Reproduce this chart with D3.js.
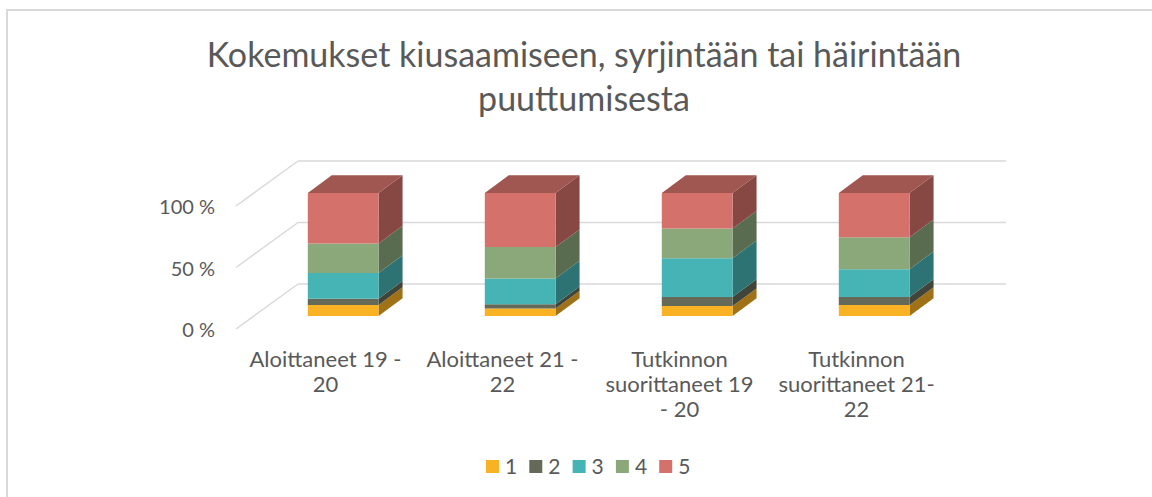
<!DOCTYPE html>
<html>
<head>
<meta charset="utf-8">
<script src="https://cdn.jsdelivr.net/npm/d3@7"></script>
<style>
	body { margin: 0; background: #fff; }
	text { font-family: 'Lato', 'Open Sans', sans-serif; fill: #595959; }
</style>
</head>
<body>
<div id="chart-container"></div>
<script>
// Data (percent of answers per group)
const categories = ['Aloittaneet 19 - 20', 'Aloittaneet 21 - 22', 'Tutkinnon suorittaneet 19 - 20', 'Tutkinnon suorittaneet 21-22'];
const categoryLines = [['Aloittaneet 19 -', '20'], ['Aloittaneet 21 -', '22'], ['Tutkinnon', 'suorittaneet 19', '- 20'], ['Tutkinnon', 'suorittaneet 21-', '22']];
const seriesNames = ['1', '2', '3', '4', '5'];
const values1 = [9, 6, 8, 9];
const values2 = [5, 3.5, 7.5, 6.5];
const values3 = [21, 21, 31.5, 22.5];
const values4 = [24, 25.5, 24, 26];
const values5 = [41, 44, 29, 36];
const yTicks = [0, 50, 100];
const yTickLabels = ['0 %', '50 %', '100 %'];
const colors = ['#f9b224', '#656a58', '#46b4b5', '#8ba87b', '#d3716a'];

/**
 * 3D stacked column chart, drawn by hand with polygons since d3 has no 3d.
 */
class StackedBars3D {

	constructor() {
		this.width = 1152;
		this.height = 497;

		// depth of the whole floor, and where the bars sit inside it
		this.depth = { dx: 61, dy: -45 };
		this.barFront = 0.29;
		this.barBack = 0.683;

		const allSeries = [values1, values2, values3, values4, values5];
		this.rows = categories.map((c, i) => {
			const row = { category: c };
			seriesNames.forEach((s, j) => { row[s] = allSeries[j][i]; });
			return row;
		});
		this.stacked = d3.stack().keys(seriesNames)(this.rows);

		this.x = d3.scaleBand()
			.domain(categories)
			.range([237, 945])
			.paddingInner(0.6)
			.paddingOuter(0.3);
		this.y = d3.scaleLinear()
			.domain([0, 100])
			.range([329, 206]);

		this.svg = d3.select('#chart-container').append('svg')
			.attr('width', this.width)
			.attr('height', this.height);

		// chart border (runs off the right and bottom of the picture)
		this.svg.append('rect')
			.attr('x', 7)
			.attr('y', 10)
			.attr('width', 1200)
			.attr('height', 600)
			.attr('fill', 'none')
			.attr('stroke', '#d9d9d9')
			.attr('stroke-width', 2);

		this.drawTitle();
		this.drawGrid();
		this.drawBars();
		this.drawLegend();
	}

	drawTitle() {
		const title = this.svg.append('text')
			.attr('text-anchor', 'middle')
			.style('font-size', '34px');
		title.append('tspan').attr('x', 584).attr('y', 67).text('Kokemukset kiusaamiseen, syrjintään tai häirintään');
		title.append('tspan').attr('x', 584).attr('y', 111).text('puuttumisesta');
	}

	drawGrid() {
		const d = this.depth;
		const [x0, x1] = this.x.range();
		const grid = this.svg.append('g').attr('class', 'grid');

		yTicks.forEach((t, i) => {
			const yf = this.y(t);
			// side wall diagonal
			grid.append('line')
				.attr('x1', x0 - 1).attr('y1', yf)
				.attr('x2', x0 + d.dx).attr('y2', yf + d.dy)
				.attr('stroke', '#d9d9d9').attr('stroke-width', 1.5);
			// back wall line
			grid.append('line')
				.attr('x1', x0 + d.dx).attr('y1', yf + d.dy)
				.attr('x2', x1 + d.dx).attr('y2', yf + d.dy)
				.attr('stroke', '#d9d9d9').attr('stroke-width', 1.5);

			this.svg.append('text')
				.attr('x', 215)
				.attr('y', yf + 8)
				.attr('text-anchor', 'end')
				.style('font-size', '20px')
				.text(yTickLabels[i]);
		});

		// category labels, in the front plane
		categories.forEach((c, i) => {
			const cx = this.x(c) + this.x.bandwidth() / 2;
			const label = this.svg.append('text')
				.attr('text-anchor', 'middle')
				.style('font-size', '22px');
			categoryLines[i].forEach((line, k) => {
				label.append('tspan')
					.attr('x', cx)
					.attr('y', 367 + k * 25)
					.text(line);
			});
		});
	}

	drawBars() {
		const d = this.depth;
		const fx = d.dx * this.barFront, fy = d.dy * this.barFront;
		const bx = d.dx * this.barBack, by = d.dy * this.barBack;
		const w = this.x.bandwidth();
		const bars = this.svg.append('g').attr('class', 'bars');
		const pts = p => p.map(q => q.join(',')).join(' ');

		categories.forEach((c, i) => {
			const left = this.x(c) + fx;
			const right = left + w;
			const g = bars.append('g');

			this.stacked.forEach((layer, j) => {
				const seg = layer[i];
				const yb = this.y(seg[0]) + fy;
				const yt = this.y(seg[1]) + fy;
				const col = d3.color(colors[j]);
				const ddx = bx - fx, ddy = by - fy;

				// right side face
				g.append('polygon')
					.attr('points', pts([[right, yb], [right + ddx, yb + ddy], [right + ddx, yt + ddy], [right, yt]]))
					.attr('fill', col.darker(1.25));
				// front face
				g.append('polygon')
					.attr('points', pts([[left, yb], [right, yb], [right, yt], [left, yt]]))
					.attr('fill', col);
				// top face of the last segment
				if (j === this.stacked.length - 1) {
					g.append('polygon')
						.attr('points', pts([[left, yt], [right, yt], [right + ddx, yt + ddy], [left + ddx, yt + ddy]]))
						.attr('fill', col.darker(0.77));
				}
			});
		});
	}

	drawLegend() {
		const legend = this.svg.append('g').attr('class', 'legend');
		seriesNames.forEach((s, j) => {
			const lx = 486 + j * 43.3;
			legend.append('rect')
				.attr('x', lx)
				.attr('y', 460)
				.attr('width', 13)
				.attr('height', 13)
				.attr('fill', colors[j]);
			legend.append('text')
				.attr('x', lx + 19)
				.attr('y', 474)
				.style('font-size', '21px')
				.text(s);
		});
	}
}

new StackedBars3D();
</script>
</body>
</html>
